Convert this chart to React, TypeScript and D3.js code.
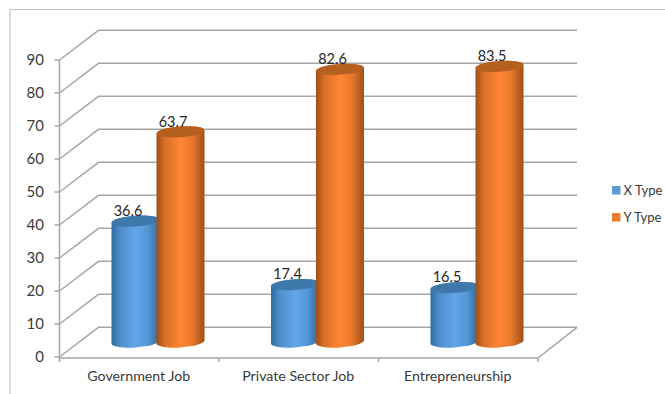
import React from "react";
import * as d3 from "d3";

const categories = ["Government Job", "Private Sector Job", "Entrepreneurship"];
const seriesNames = ["X Type", "Y Type"];
const xTypeValues = [36.6, 17.4, 16.5];
const yTypeValues = [63.7, 82.6, 83.5];
const yTicks = [0, 10, 20, 30, 40, 50, 60, 70, 80, 90];

const FONT = "Lato, 'Open Sans', sans-serif";
const TEXT = "#3a3a3a";
const GRID = "#a6a6a6";

// Front plane of the 3D box and the depth offset to its back wall
const x = d3.scaleBand<string>().domain(categories).range([59.5, 538]);
const y = d3.scaleLinear().domain([0, 90]).range([357, 60]);
const depthX = 39;
const depthY = -29.7;

// Cylinders stand mid-way through the box's depth
const baseOffset = -15;
const member = d3.scaleBand<string>().domain(seriesNames).range([76, 166]);
const radiusX = 24;
const radiusY = 5.4;
const tilt = -4;

const palette = [
  { id: "cyl-x", edge: "#2f6a9f", mid: "#62a6e8", top: "#3f78aa", key: "#5b9bd5" },
  { id: "cyl-y", edge: "#a04f17", mid: "#ff8633", top: "#b5601f", key: "#ed7d31" },
];

function cylinderPath(cx: number, topY: number, botY: number) {
  const d = radiusX * Math.sin((-tilt * Math.PI) / 180);
  const l = cx - radiusX;
  const r = cx + radiusX;
  const arc = `A${radiusX} ${radiusY} ${tilt} 0 0`;
  return `M${l} ${topY + d}L${l} ${botY + d}${arc} ${r} ${botY - d}L${r} ${topY - d}${arc} ${l} ${topY + d}Z`;
}

function Cylinder({ cat, si, value }: { cat: string; si: number; value: number }) {
  const name = seriesNames[si];
  const cx = x(cat)! + member(name)! + member.bandwidth() / 2 - 22.5;
  const botY = y(0) + baseOffset;
  const topY = y(value) + baseOffset;
  return (
    <g>
      <path d={cylinderPath(cx, topY, botY)} fill={`url(#${palette[si].id})`} />
      <ellipse
        cx={cx}
        cy={topY}
        rx={radiusX}
        ry={radiusY}
        fill={palette[si].top}
        transform={`rotate(${tilt} ${cx} ${topY})`}
      />
    </g>
  );
}

export default function App() {
  const series = [xTypeValues, yTypeValues];
  const [x0, x1] = x.range();
  const tickXs = [...categories.map((c) => x(c)!), x1];
  return (
    <svg
      width={665}
      height={394}
      style={{ position: "absolute", left: 0, top: 0, background: "#fff", fontFamily: FONT }}
    >
      <defs>
        {palette.map((p) => (
          <linearGradient key={p.id} id={p.id} x1="0" x2="1" y1="0" y2="0">
            <stop offset="0" stopColor={p.edge} />
            <stop offset="0.18" stopColor={d3.interpolateRgb(p.edge, p.mid)(0.6)} />
            <stop offset="0.5" stopColor={p.mid} />
            <stop offset="0.75" stopColor={d3.interpolateRgb(p.edge, p.mid)(0.75)} />
            <stop offset="1" stopColor={p.edge} />
          </linearGradient>
        ))}
      </defs>

      {/* outer frame: top and left edges only */}
      <path d="M10 394V9.5H665" fill="none" stroke="#c4c4c4" strokeWidth={1.2} />

      {/* back-wall gridlines with their diagonal returns on the side wall */}
      <g fill="none" stroke={GRID} strokeWidth={1.5}>
        {yTicks.map((t) => (
          <path
            key={t}
            d={`M${x0} ${y(t)}L${x0 + depthX} ${y(t) + depthY}H${x1 + depthX}`}
          />
        ))}
        <path d={`M${x0} ${y(90)}V${y(0) + 1.5}`} />
        {yTicks.map((t) => (
          <path key={t} d={`M${x0 - 5} ${y(t)}H${x0}`} />
        ))}
        <path d={`M${x0} ${y(0) + 1}H${x1}L${x1 + depthX} ${y(0) + depthY}`} />
        {tickXs.map((tx) => (
          <path key={tx} d={`M${tx} ${y(0) + 1}v4`} />
        ))}
      </g>

      {/* y tick labels */}
      {yTicks.map((t) => (
        <text
          key={t}
          x={44}
          y={y(t)}
          dy="0.36em"
          textAnchor="end"
          fontSize={15}
          fill={TEXT}
        >
          {t}
        </text>
      ))}

      {/* cylinders, with the Y Type one painted over its X Type neighbour */}
      {categories.map((c, i) => (
        <g key={c}>
          {series.map((vals, si) => (
            <Cylinder key={si} cat={c} si={si} value={vals[i]} />
          ))}
        </g>
      ))}

      {/* value labels */}
      {categories.map((c, i) =>
        series.map((vals, si) => (
          <text
            key={c + si}
            x={x(c)! + member(seriesNames[si])! + member.bandwidth() / 2 - 30}
            y={y(vals[i]) + baseOffset - 10.5}
            dy="0.36em"
            textAnchor="middle"
            fontSize={14.5}
            fill="#262626"
          >
            {vals[i]}
          </text>
        ))
      )}

      {/* category labels */}
      {categories.map((c) => (
        <text
          key={c}
          x={x(c)! + x.bandwidth() / 2 - 0.5}
          y={376}
          dy="0.36em"
          textAnchor="middle"
          fontSize={14.2}
          fill={TEXT}
        >
          {c}
        </text>
      ))}

      {/* legend */}
      {seriesNames.map((s, i) => (
        <g key={s} transform={`translate(612 ${186 + i * 27})`}>
          <rect width={8.5} height={8.5} fill={palette[i].key} />
          <text x={11.5} y={4.3} dy="0.36em" fontSize={13} fill={TEXT}>
            {s}
          </text>
        </g>
      ))}
    </svg>
  );
}
